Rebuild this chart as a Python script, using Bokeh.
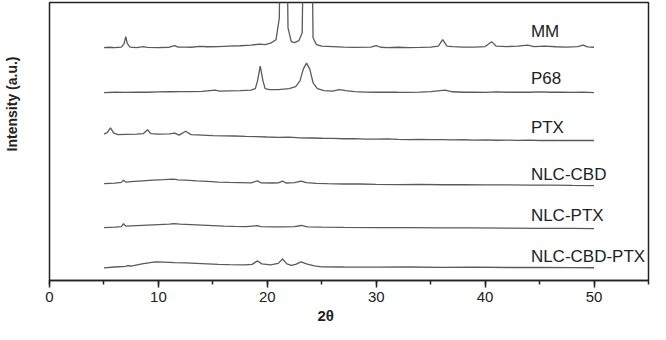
from bokeh.plotting import figure
from bokeh.models import Range1d, SingleIntervalTicker, Title, ColumnDataSource
from bokeh.core.properties import value
from bokeh.embed import file_html
from bokeh.resources import INLINE

# ---- data (2theta, intensity relative to each trace's baseline) ----
names = ["MM", "P68", "PTX", "NLC-CBD", "NLC-PTX", "NLC-CBD-PTX"]
offsets = [238, 192, 143, 97, 53, 13]

mm_x = [5.0, 5.5, 6.0, 6.6, 6.85, 7.0, 7.15, 7.4, 8.0, 8.6, 9.0, 10, 11, 11.5, 11.8, 12.5, 13, 13.8,
        14.5, 15.5, 16.5, 17.5, 18.5, 19.3, 19.8, 20.3, 20.8, 21.1, 21.3, 21.5, 21.7, 21.9, 22.2, 22.5,
        22.9, 23.2, 23.45, 23.75, 24.0, 24.2, 24.5, 25, 26, 27, 28, 29.5, 30.0, 30.4, 31, 32, 33, 34, 35,
        35.7, 36.1, 36.5, 37, 38, 39, 40, 40.6, 41.0, 42, 43, 43.9, 44.5, 45.5, 46.5, 47.5, 48.5, 49.0,
        49.4, 50.0]
mm_y = [0.0, 0.3, 0.0, 0.5, 4, 11, 4, 0.5, 0, 1.0, 0.2, 0.0, 0.3, 2.0, 0.5, 0.5, 0.3, 1.2,
        0.8, 1.0, 1.5, 1.8, 2.5, 3.5, 3.0, 4.5, 8, 30, 200, 250, 200, 20, 6, 5,
        7, 15, 200, 250, 200, 10, 3, 1.5, 1.0, 0.5, 0.2, 0.5, 2.0, 0.3, 0.0, 0.3, 0.0, 0.2, 0.5,
        1.5, 8, 1.5, 1.0, 0.5, 0.5, 1.0, 6, 1.5, 1.0, 1.5, 2.5, 1.0, 1.5, 0.8, 0.5, 1.0, 2.5,
        0.6, 0.3]

p68_x = [5.0, 6, 7, 8, 9, 10, 11, 12, 13, 14, 15.2, 15.6, 16.5, 17.5, 18.5, 18.9, 19.1, 19.35, 19.6,
         19.8, 20.2, 21, 22, 22.6, 23.0, 23.3, 23.6, 23.9, 24.2, 24.6, 25.2, 26, 26.6, 27.2, 28, 29, 30,
         31, 32, 33, 34, 35, 36.3, 37, 38, 39, 40, 41, 42, 43, 44, 45, 46, 47, 48, 49, 50]
p68_y = [0, 0.3, 0.2, 0.5, 0.3, 0.6, 0.8, 1.0, 1.0, 1.2, 2.5, 1.5, 1.8, 2.0, 2.5, 4, 12, 27, 12,
         4, 3, 3, 4, 6, 12, 24, 30, 24, 10, 4, 2, 1.5, 3, 2, 1, 0.5, 0.3,
         0.5, 0.3, 0.2, 0.5, 1.0, 2.5, 0.8, 0.3, 0.5, 0.2, 0.6, 0.3, 0.5, 0.3, 0.6, 0.3, 0.5, 0.2, 0.4, 0.0]

ptx_x = [5.0, 5.3, 5.6, 5.9, 6.3, 7, 8, 8.6, 9.0, 9.3, 10, 11, 11.5, 11.9, 12.5, 13.0, 14, 15, 16, 17,
         18, 19, 20, 21, 22, 23, 24, 25, 26, 27, 28, 29, 30, 31, 32, 33, 34, 35, 36, 37, 38, 39, 40, 41,
         42, 43, 44, 45, 46, 47, 48, 49, 50]
ptx_y = [6.5, 8, 13, 7.5, 6, 6.3, 6.5, 7, 11, 7, 6.5, 6.8, 7.5, 5.5, 9.5, 6, 5.5, 5.0, 4.8, 4.6,
         4.2, 4.0, 3.6, 3.3, 3.4, 2.8, 2.6, 2.3, 2.2, 1.8, 2.0, 1.5, 1.5, 1.6, 1.2, 1.0, 1.2, 0.9, 1.0,
         0.7, 0.8, 0.5, 0.7, 0.3, 0.5, 0.2, 0.4, 0.0, 0.2, 0.0, 0.2, 0.0, 0.0]

cbd_x = [5.0, 6.0, 6.6, 6.8, 7.0, 7.5, 8.5, 9.5, 10.5, 11.4, 11.8, 12.5, 13.5, 14.5, 15.5, 16.5, 17.5,
         18.5, 19.1, 19.4, 20.5, 21.0, 21.4, 21.7, 22.5, 23.1, 23.6, 24.5, 25.5, 27, 28.5, 30, 32, 34,
         36, 38, 40, 42, 44, 46, 48, 50]
cbd_y = [2, 2.5, 3.2, 5.5, 3.5, 4, 4.8, 5.5, 6, 6.5, 5.8, 5.5, 4.8, 4.2, 3.6, 3.2, 3.0,
         2.8, 4.8, 2.8, 2.6, 2.7, 4.6, 2.6, 3, 4.6, 3, 2.2, 1.9, 1.6, 1.6, 1.3, 1.0, 1.2,
         0.8, 0.9, 0.6, 0.7, 0.4, 0.5, 0.2, 0]

nptx_x = [5, 6, 6.6, 6.8, 7.0, 8, 9, 10, 11, 11.4, 12, 13, 14, 15, 16, 17, 18, 19.1, 19.4, 20.5, 21.5,
          22.5, 23.1, 23.7, 25, 27, 30, 33, 36, 39, 42, 45, 48, 50]
nptx_y = [1, 1.5, 2, 5, 2.5, 3, 3.5, 4, 4.5, 5, 4.5, 4, 3.5, 3, 2.5, 2.2, 2, 3, 2, 1.8, 1.8,
          2, 3.2, 1.8, 1.5, 1.2, 1.0, 1.0, 0.8, 0.7, 0.5, 0.3, 0.2, 0]

combo_x = [5, 6, 7, 7.2, 7.5, 8.5, 9.7, 10.5, 11.5, 12.5, 13.5, 14.5, 15.5, 16.5, 17.9, 18.6, 19.1,
           19.5, 20.3, 21.0, 21.4, 21.8, 22.2, 22.6, 23.1, 23.6, 24.3, 25, 27, 30, 33, 36, 39, 42, 45,
           48, 50]
combo_y = [0, 0.8, 1.5, 2.2, 1.8, 4, 6, 5.8, 5.3, 5, 4.5, 4, 3.5, 3.2, 3, 3.5, 7,
           4, 3, 4.5, 9, 4, 2.5, 3.5, 6, 4, 2, 1, 0.8, 0.6, 0.8, 0.5, 0.6, 0.3, 0.4,
           0.2, 0]

xs_all = [mm_x, p68_x, ptx_x, cbd_x, nptx_x, combo_x]
ys_all = [mm_y, p68_y, ptx_y, cbd_y, nptx_y, combo_y]
label_x = 44.2
label_y = [254, 206.5, 156.5, 108.5, 66, 25]

x_title = "2θ"
y_title = "Intensity (a.u.)"

# ---- figure ----
p = figure(width=650, height=324, output_backend="svg", toolbar_location=None,
           x_range=Range1d(0, 55), y_range=Range1d(0, 284),
           min_border_left=49, min_border_right=2, min_border_top=2, min_border_bottom=40)
p.background_fill_color = "white"
p.border_fill_color = "white"
p.outline_line_color = "#222222"
p.outline_line_width = 1.5
p.xgrid.visible = False
p.ygrid.visible = False
p.yaxis.visible = False

xa = p.xaxis[0]
xa.ticker = SingleIntervalTicker(interval=10, num_minor_ticks=2)
xa.axis_line_color = "#222222"
xa.axis_line_width = 1.5
xa.major_tick_line_color = "#222222"
xa.major_tick_line_width = 1.5
xa.minor_tick_line_color = "#222222"
xa.minor_tick_line_width = 1.5
xa.major_tick_in = 0
xa.major_tick_out = 7
xa.minor_tick_in = 0
xa.minor_tick_out = 4
xa.major_label_text_font = "Liberation Sans"
xa.major_label_text_font_size = "15px"
xa.major_label_text_color = "#222222"
xa.major_label_standoff = 4

for xs, ys, off in zip(xs_all, ys_all, offsets):
    p.line(xs, [off + v for v in ys], line_color="#5a5a5a", line_width=1.3)

src = ColumnDataSource(dict(x=[label_x] * len(names), y=label_y, t=names))
p.text(x="x", y="y", text="t", source=src, text_font=value("Liberation Sans"),
       text_font_size="17px", text_color="#222222", text_baseline="middle", text_align="left")

p.add_layout(Title(text=x_title, align="left", offset=268, text_font="Liberation Sans",
                   text_font_size="15px", text_font_style="bold", text_color="#222222",
                   standoff=1), "below")
# empty spacer between the frame and the y title
p.add_layout(Title(text=" ", text_font_size="1px", standoff=26, text_color="white"), "left")
p.add_layout(Title(text=y_title, align="right", offset=54, text_font="Liberation Sans",
                   text_font_size="14px", text_font_style="bold", text_color="#222222",
                   standoff=2), "left")

open("out.html", "w").write(file_html(p, INLINE))
